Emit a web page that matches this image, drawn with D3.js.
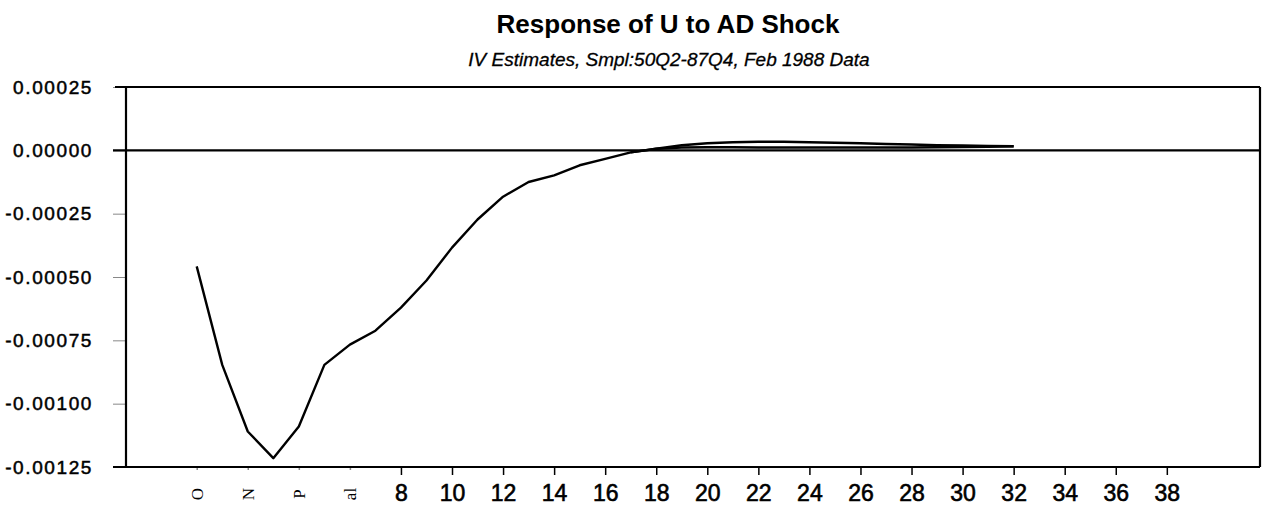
<!DOCTYPE html>
<html>
<head>
<meta charset="utf-8">
<script src="https://cdn.jsdelivr.net/npm/d3@7"></script>
<style>
  body { margin: 0; background: #fff; }
  text { font-family: "Liberation Sans", Arial, sans-serif; fill: #000; }
</style>
</head>
<body>
<div id="chart"></div>
<script>
/* DATA */
const periods = d3.range(0, 33);
// main impulse response, periods 0..32
const response = [
  -0.000458, -0.000847, -0.00111, -0.001215, -0.00109, -0.000847, -0.000767,
  -0.000712, -0.000621, -0.000514, -0.000384, -0.000273, -0.000183, -0.000125,
  -0.000099, -0.000059, -0.000034, -0.000008, 0.000006, 0.00002, 0.000028,
  0.000032, 0.000034, 0.000034, 0.000032, 0.00003, 0.000028, 0.000025,
  0.000023, 0.00002, 0.000019, 0.000017, 0.000016
];
// second, flatter trace that splits off after the zero crossing
const responseLow = [
  -0.000008, 0.000006, 0.000011, 0.000012, 0.000012, 0.000011, 0.000011,
  0.000011, 0.000011, 0.000011, 0.000011, 0.000011, 0.000012, 0.000013,
  0.000014, 0.000016
];
const lowStart = 17;

const yTicks = [0.00025, 0, -0.00025, -0.0005, -0.00075, -0.001, -0.00125];
const yTickLabels = ["0.00025", "0.00000", "-0.00025", "-0.00050", "-0.00075", "-0.00100", "-0.00125"];
const xTicks = d3.range(0, 40, 2);
const xTickLabels = ["O", "N", "P", "al", "8", "10", "12", "14", "16", "18", "20",
  "22", "24", "26", "28", "30", "32", "34", "36", "38"];

/* LAYOUT */
const width = 1268, height = 511;
const plot = { left: 126, right: 1260, top: 87, bottom: 467 };

const svg = d3.select("#chart").append("svg")
  .attr("width", width)
  .attr("height", height);

const xScale = d3.scaleLinear()
  .domain([-2.77, 41.65])
  .range([plot.left, plot.right]);

const yScale = d3.scaleLinear()
  .domain([-0.00125, 0.00025])
  .range([plot.bottom, plot.top]);

// titles
svg.append("text")
  .attr("x", 668).attr("y", 33)
  .attr("text-anchor", "middle")
  .style("font-size", "26px").style("font-weight", "bold")
  .text("Response of U to AD Shock");

svg.append("text")
  .attr("x", 669).attr("y", 66)
  .attr("text-anchor", "middle")
  .style("font-size", "19px").style("font-style", "italic")
  .attr("stroke", "#000").attr("stroke-width", 0.3)
  .text("IV Estimates, Smpl:50Q2-87Q4, Feb 1988 Data");

// y axis
const yAxis = d3.axisLeft(yScale)
  .tickValues(yTicks)
  .tickSize(13)
  .tickPadding(20)
  .tickFormat((d, i) => yTickLabels[i]);

const yAxisGroup = svg.append("g")
  .attr("transform", `translate(${plot.left},0)`)
  .call(yAxis);
yAxisGroup.select(".domain").remove();
yAxisGroup.selectAll(".tick line").attr("stroke", "#888");
yAxisGroup.selectAll(".tick text")
  .style("font-size", "19px")
  .style("letter-spacing", "1.6px")
  .attr("stroke", "#000").attr("stroke-width", 0.5)
  .attr("fill", "#000");

// x axis
const xAxis = d3.axisBottom(xScale)
  .tickValues(xTicks)
  .tickSize(8)
  .tickPadding(10)
  .tickFormat((d, i) => xTickLabels[i]);

const xAxisGroup = svg.append("g")
  .attr("transform", `translate(0,${plot.bottom})`)
  .call(xAxis);
xAxisGroup.select(".domain").remove();
xAxisGroup.selectAll(".tick line")
  .attr("stroke-width", 1.5)
  .attr("y2", d => d < 8 ? 3 : 8)
  .attr("stroke", d => d < 8 ? "#888" : "#000");
xAxisGroup.selectAll(".tick text")
  .style("font-size", "23px")
  .attr("stroke", "#000").attr("stroke-width", 0.6)
  .attr("fill", "#000");
// the first four labels come out as small rotated glyphs
xAxisGroup.selectAll(".tick text")
  .filter(d => d < 8)
  .attr("y", 0).attr("dy", null)
  .attr("transform", "translate(0,27) rotate(-90)")
  .attr("text-anchor", "middle")
  .attr("dominant-baseline", "central")
  .attr("stroke-width", 0)
  .style("font-family", "'Liberation Serif', serif")
  .style("font-size", "17px");

// frame
const frame = svg.append("g").attr("stroke", "#000").attr("stroke-width", 2.2);
frame.append("line").attr("x1", 115).attr("x2", plot.right).attr("y1", plot.top).attr("y2", plot.top);
frame.append("line").attr("x1", 113).attr("x2", plot.right).attr("y1", plot.bottom).attr("y2", plot.bottom);
frame.append("line").attr("x1", plot.left).attr("x2", plot.left).attr("y1", plot.top).attr("y2", plot.bottom);
frame.append("line").attr("x1", plot.right).attr("x2", plot.right).attr("y1", plot.top).attr("y2", plot.bottom);

// zero line
svg.append("line")
  .attr("x1", 113).attr("x2", plot.right)
  .attr("y1", yScale(0)).attr("y2", yScale(0))
  .attr("stroke", "#000").attr("stroke-width", 2.2);

// lines
const lineGen = d3.line()
  .x(d => xScale(d.period))
  .y(d => yScale(d.value));

const mainData = periods.map((p, i) => ({ period: p, value: response[i] }));
const lowData = responseLow.map((v, i) => ({ period: lowStart + i, value: v }));

svg.selectAll(".line")
  .data([lowData, mainData])
  .join("path")
  .attr("class", "line")
  .attr("fill", "none")
  .attr("stroke", "#000")
  .attr("stroke-width", 2.4)
  .attr("stroke-linejoin", "round")
  .attr("d", d => lineGen(d));
</script>
</body>
</html>
